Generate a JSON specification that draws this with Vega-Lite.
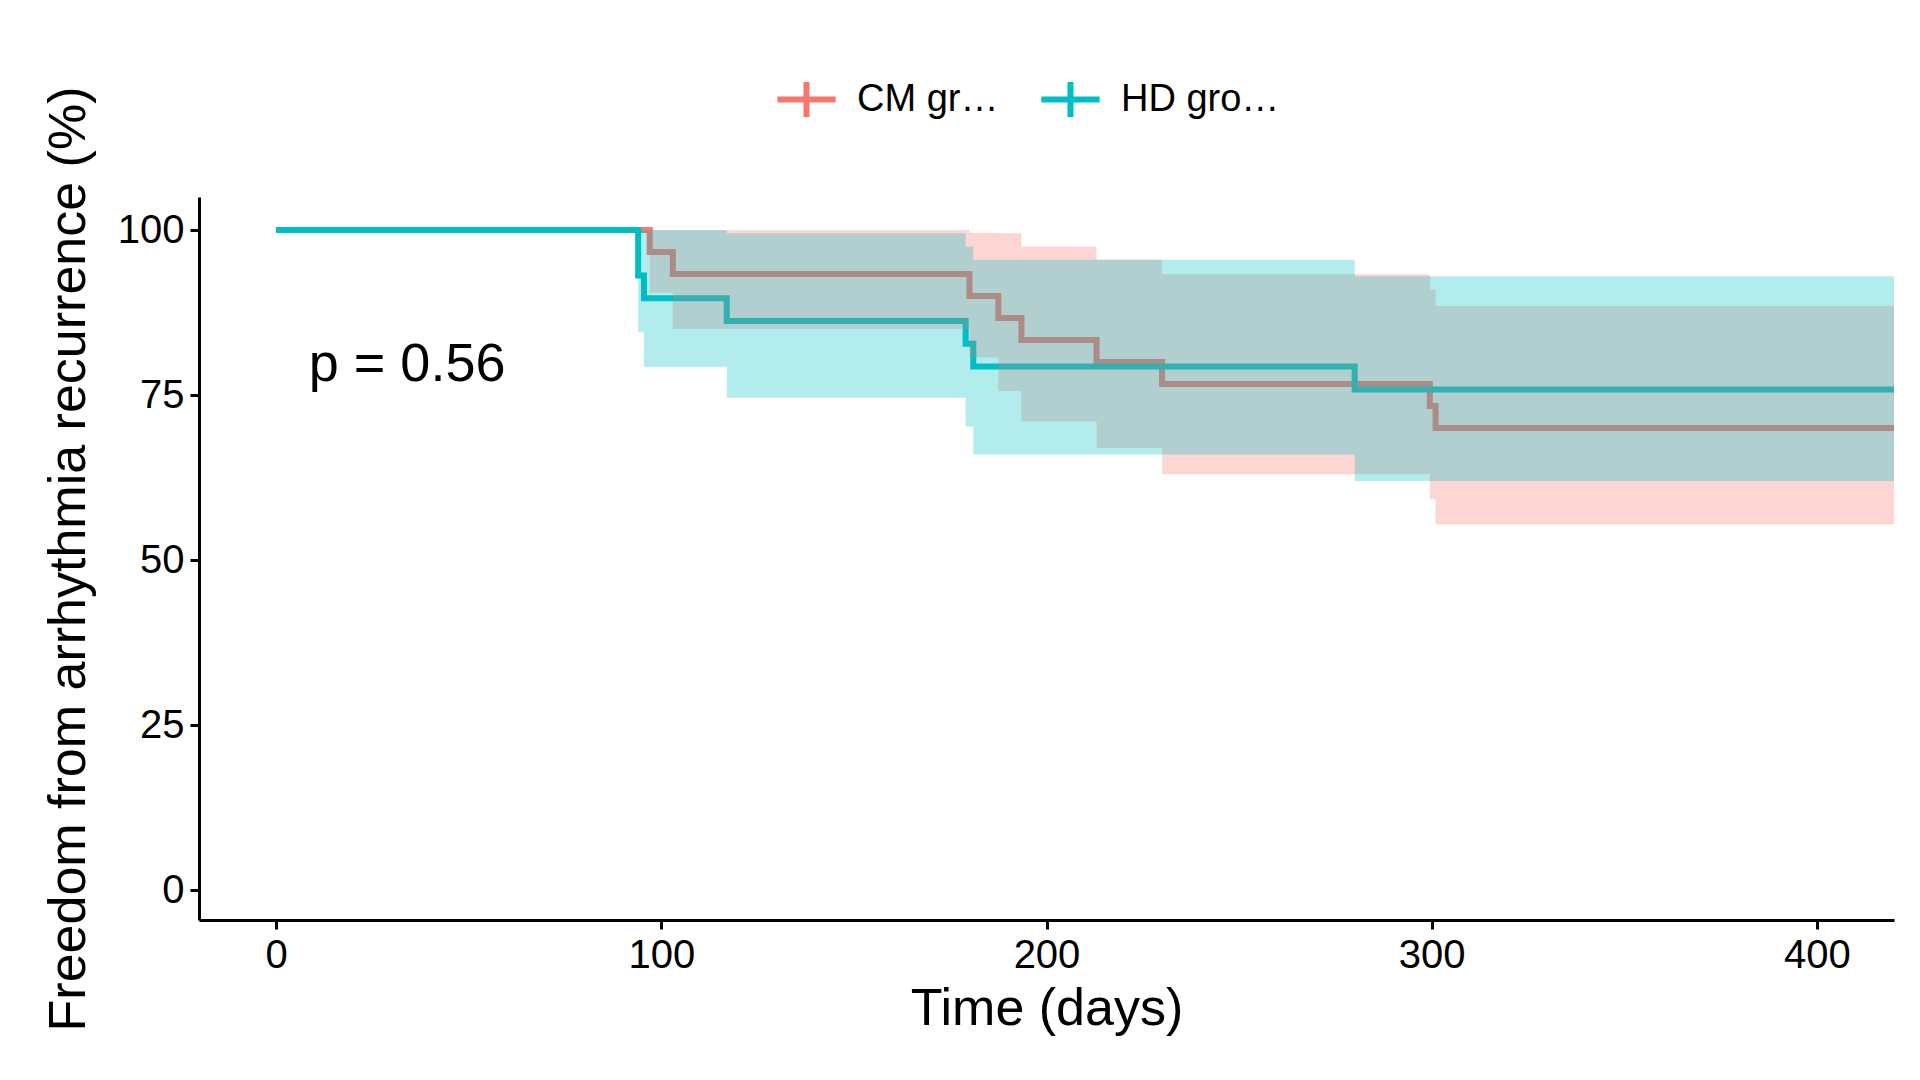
{
"$schema":"https://vega.github.io/schema/vega-lite/v6.json",
"width":1695,"height":723,
"autosize":{"type":"none"},
"padding":{"left":199,"top":197,"right":26,"bottom":160},
"background":"white",
"config":{"view":{"stroke":null},"font":"Liberation Sans",
"axis":{"grid":false,"domainColor":"black","domainWidth":3,"tickColor":"black","tickWidth":3,"tickSize":9,"labelFontSize":40,"labelColor":"black","titleFontSize":52,"titleFontWeight":"normal","titleColor":"black","labelPadding":6}},
"datasets":{"km":[
{"g":"CM group","t":0,"s":100,"lo":100,"hi":100},
{"g":"CM group","t":97,"s":96.67,"lo":90.5,"hi":100},
{"g":"CM group","t":103,"s":93.33,"lo":85,"hi":100},
{"g":"CM group","t":180,"s":90,"lo":80.7,"hi":99.6},
{"g":"CM group","t":187.5,"s":86.67,"lo":75.6,"hi":99.5},
{"g":"CM group","t":193.5,"s":83.33,"lo":71,"hi":97.5},
{"g":"CM group","t":213,"s":80,"lo":67,"hi":95.5},
{"g":"CM group","t":230,"s":76.67,"lo":63,"hi":93.3},
{"g":"CM group","t":299.5,"s":73.33,"lo":59.3,"hi":91},
{"g":"CM group","t":301,"s":70,"lo":55.4,"hi":88.5},
{"g":"CM group","t":420,"s":70,"lo":55.4,"hi":88.5},
{"g":"HD group","t":0,"s":100,"lo":100,"hi":100},
{"g":"HD group","t":94,"s":93.1,"lo":84.5,"hi":100},
{"g":"HD group","t":95.5,"s":89.66,"lo":79.3,"hi":100},
{"g":"HD group","t":117,"s":86.21,"lo":74.6,"hi":99.5},
{"g":"HD group","t":179,"s":82.76,"lo":70.2,"hi":97.5},
{"g":"HD group","t":181,"s":79.31,"lo":66,"hi":95.5},
{"g":"HD group","t":280,"s":75.86,"lo":62,"hi":93},
{"g":"HD group","t":420,"s":75.86,"lo":62,"hi":93}
],
"p":[{"label":"p = 0.56","t":8.5,"s":79.5}]},
"layer":[
{"data":{"name":"km"},"mark":{"type":"line","interpolate":"step-after","strokeWidth":6},
"encoding":{
"x":{"field":"t","type":"quantitative","scale":{"domain":[-20,420],"nice":false,"zero":false},"axis":{"values":[0,100,200,300,400],"title":"Time (days)","titlePadding":8}},
"y":{"field":"s","type":"quantitative","scale":{"domain":[-4.5,105],"nice":false,"zero":false},"axis":{"values":[0,25,50,75,100],"title":"Freedom from arrhythmia recurrence (%)","titlePadding":22}},
"color":{"field":"g","type":"nominal","scale":{"domain":["CM group","HD group"],"range":["#F8766D","#00BFC4"]},
"legend":{"title":null,"orient":"none","legendX":575,"legendY":-130,"direction":"horizontal","labelFontSize":38,"labelColor":"black","symbolType":"M-1,0L1,0M0,-0.6L0,0.6","symbolSize":3400,"symbolStrokeWidth":6,"columnPadding":30,"labelOffset":18}}}},
{"data":{"name":"km"},"mark":{"type":"area","interpolate":"step-after","opacity":0.3},
"encoding":{"x":{"field":"t","type":"quantitative"},"y":{"field":"lo","type":"quantitative"},"y2":{"field":"hi"},
"color":{"field":"g","type":"nominal","legend":null}}},
{"data":{"name":"p"},"mark":{"type":"text","align":"left","baseline":"middle","fontSize":54,"color":"black"},
"encoding":{"x":{"field":"t","type":"quantitative"},"y":{"field":"s","type":"quantitative"},"text":{"field":"label"}}}
]
}
